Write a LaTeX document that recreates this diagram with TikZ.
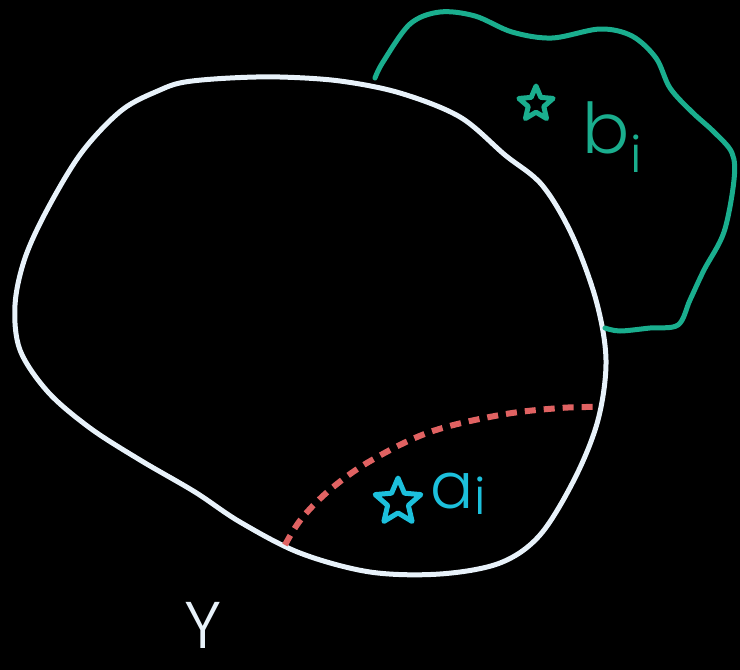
\documentclass[tikz,border=0pt]{standalone}
\usepackage{fontspec}
\newfontfamily\hand{Poppins Light}
\usetikzlibrary{shapes.geometric}
\definecolor{chalk}{HTML}{E8F2FA}
\definecolor{mint}{HTML}{1AAE8E}
\definecolor{sky}{HTML}{1CC0DC}
\definecolor{coral}{HTML}{E06262}
\tikzset{
  stroke/.style={line width=5pt,line cap=round,line join=round},
  starmark/.style={star,star points=5,star point ratio=2.2,draw,line width=5pt,line join=round,inner sep=0pt},
  lbl/.style={font=\hand,inner sep=0pt}
}
\begin{document}
\begin{tikzpicture}[x=1pt,y=-1pt]
\fill[black] (0,0) rectangle (740,670);
\useasboundingbox (0,0) rectangle (740,670);
% white region
\draw[stroke,chalk] plot[smooth cycle,tension=0.55] coordinates {
 (185,82) (230,78) (280,77) (340,81) (400,93) (460,117) (505,155) (542,185)
 (572,235) (596,300) (606,360) (598,420) (575,478) (540,535) (500,563) (440,574)
 (370,572) (300,553) (240,522) (195,492) (140,460) (90,428) (48,392) (20,350)
 (15,305) (25,258) (48,208) (82,152) (122,110) (160,90)};
% green region
\draw[stroke,mint] plot[smooth,tension=0.55] coordinates {
 (375,78) (383,62) (410,24) (440,12) (475,16) (512,32) (552,38) (600,29)
 (632,36) (656,58) (670,88) (692,112) (714,132) (732,153) (734,180) (724,232)
 (704,270) (690,300) (678,325) (650,328) (620,331) (605,328)};
% red dashed curve
\draw[stroke,coral,line width=6pt,dash pattern=on 11pt off 8pt,line cap=butt] plot[smooth,tension=0.6] coordinates {
 (285,545) (302,518) (332,488) (372,460) (430,432) (500,415) (560,408) (598,407)};
% stars and labels
\node[starmark,sky,minimum size=48pt] (sa) at (398,502) {};
\node[lbl,sky,font=\hand\fontsize{64}{64}\selectfont,anchor=base west] (la) at (430,508) {a};
\node[lbl,sky,font=\hand\fontsize{50}{50}\selectfont,anchor=base west] (li) at (474,514) {i};
\node[starmark,mint,minimum size=36pt] (sb) at (536,104) {};
\node[lbl,mint,font=\hand\fontsize{70}{70}\selectfont,anchor=base west] (lb) at (582,153) {b};
\node[lbl,mint,font=\hand\fontsize{50}{50}\selectfont,anchor=base west] (lbi) at (630,172) {i};
\node[lbl,chalk,font=\hand\fontsize{66}{66}\selectfont,anchor=base] (ly) at (203,648) {Y};
\end{tikzpicture}
\end{document}
